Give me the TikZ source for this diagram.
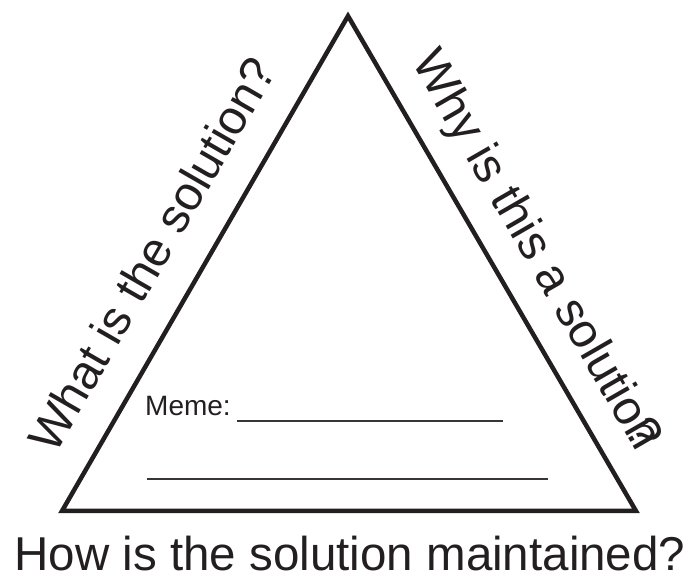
\documentclass[tikz,border=0pt]{standalone}
\usepackage{fontspec}
\setmainfont{Liberation Sans}
\definecolor{ink}{HTML}{231F20}
\begin{document}
\begin{tikzpicture}[x=1bp,y=1bp,
  lbl/.style={inner sep=0pt, outer sep=0pt, text=ink, font=\fontsize{48bp}{56bp}\selectfont},
  blank/.style={line width=2bp, draw=ink!90}]
\useasboundingbox (0,0) rectangle (687,577);
\coordinate (A) at (348,561);
\coordinate (B) at (62,66);
\coordinate (C) at (636,66);
\draw[line width=4.5bp, line join=miter, draw=ink] (A) -- (B) -- (C) -- cycle;
\node[lbl, anchor=base west, rotate=60] (left) at (55,121) {What is the solution?};
\node[lbl, anchor=base west, rotate=-60] (right) at (411,515) {Why is this a solutio\rlap{n}?};
\node[lbl, font=\fontsize{47.5bp}{56bp}\selectfont, anchor=base] (bottom) at (350,6) {How is the solution maintained?};
\node[inner sep=0pt, text=ink, font=\fontsize{28bp}{32bp}\selectfont, anchor=base west] (meme) at (145,161) {Meme:};
\coordinate (u1s) at (237,156);
\coordinate (u1e) at (503,156);
\coordinate (u2s) at (147,98);
\coordinate (u2e) at (548,98);
\draw[blank] (u1s) -- (u1e);
\draw[blank] (u2s) -- (u2e);
\end{tikzpicture}
\end{document}
